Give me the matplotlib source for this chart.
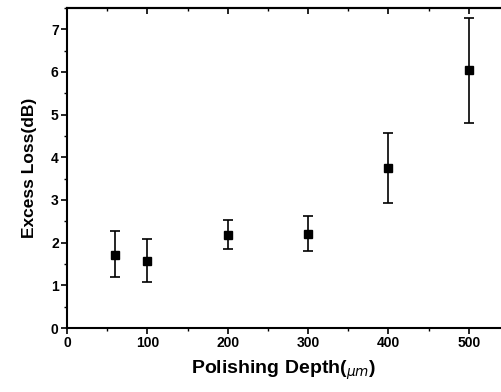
import numpy as np
import matplotlib.pyplot as plt
from matplotlib.ticker import MultipleLocator

depth = [60, 100, 200, 300, 400, 500]
loss = [1.71, 1.57, 2.19, 2.21, 3.75, 6.04]
err_low = [0.52, 0.50, 0.33, 0.41, 0.83, 1.24]
err_high = [0.56, 0.51, 0.33, 0.41, 0.81, 1.23]

plt.rcParams['font.family'] = ['Liberation Sans', 'DejaVu Sans']

fig = plt.figure(figsize=(5.01, 3.92), dpi=100)
ax = fig.add_axes([0.1337, 0.163, 0.866, 0.817])

ax.errorbar(depth, loss, yerr=[err_low, err_high], fmt='s', color='black',
            markersize=5.5, ecolor='black', elinewidth=1.2, capsize=3.5, capthick=1.2)

ax.set_xlim(0, 540)
ax.set_ylim(0, 7.5)
ax.xaxis.set_major_locator(MultipleLocator(100))
ax.xaxis.set_minor_locator(MultipleLocator(50))
ax.yaxis.set_major_locator(MultipleLocator(1))
ax.yaxis.set_minor_locator(MultipleLocator(0.5))

ax.tick_params(axis='both', which='major', direction='out', length=4, width=1.2,
               labelsize=10, pad=2)
ax.tick_params(axis='both', which='minor', direction='out', length=2, width=1)

# mirrored ticks on the top axis, pointing inward
top = ax.secondary_xaxis('top')
top.xaxis.set_major_locator(MultipleLocator(100))
top.xaxis.set_minor_locator(MultipleLocator(50))
top.tick_params(which='major', direction='in', length=4, width=1.2, labeltop=False)
top.tick_params(which='minor', direction='in', length=2, width=1)
top.spines['top'].set_linewidth(1.5)

for lab in ax.get_xticklabels() + ax.get_yticklabels():
    lab.set_fontweight('bold')

for s in ['left', 'bottom', 'top']:
    ax.spines[s].set_linewidth(1.5)
ax.spines['right'].set_visible(False)

ax.set_xlabel(r'Polishing Depth($_{\mu m}$)', fontsize=14, fontweight='bold', labelpad=6)
ax.set_ylabel('Excess Loss(dB)', fontsize=12.5, fontweight='bold', labelpad=10)

fig.savefig('out.png', dpi=100)
